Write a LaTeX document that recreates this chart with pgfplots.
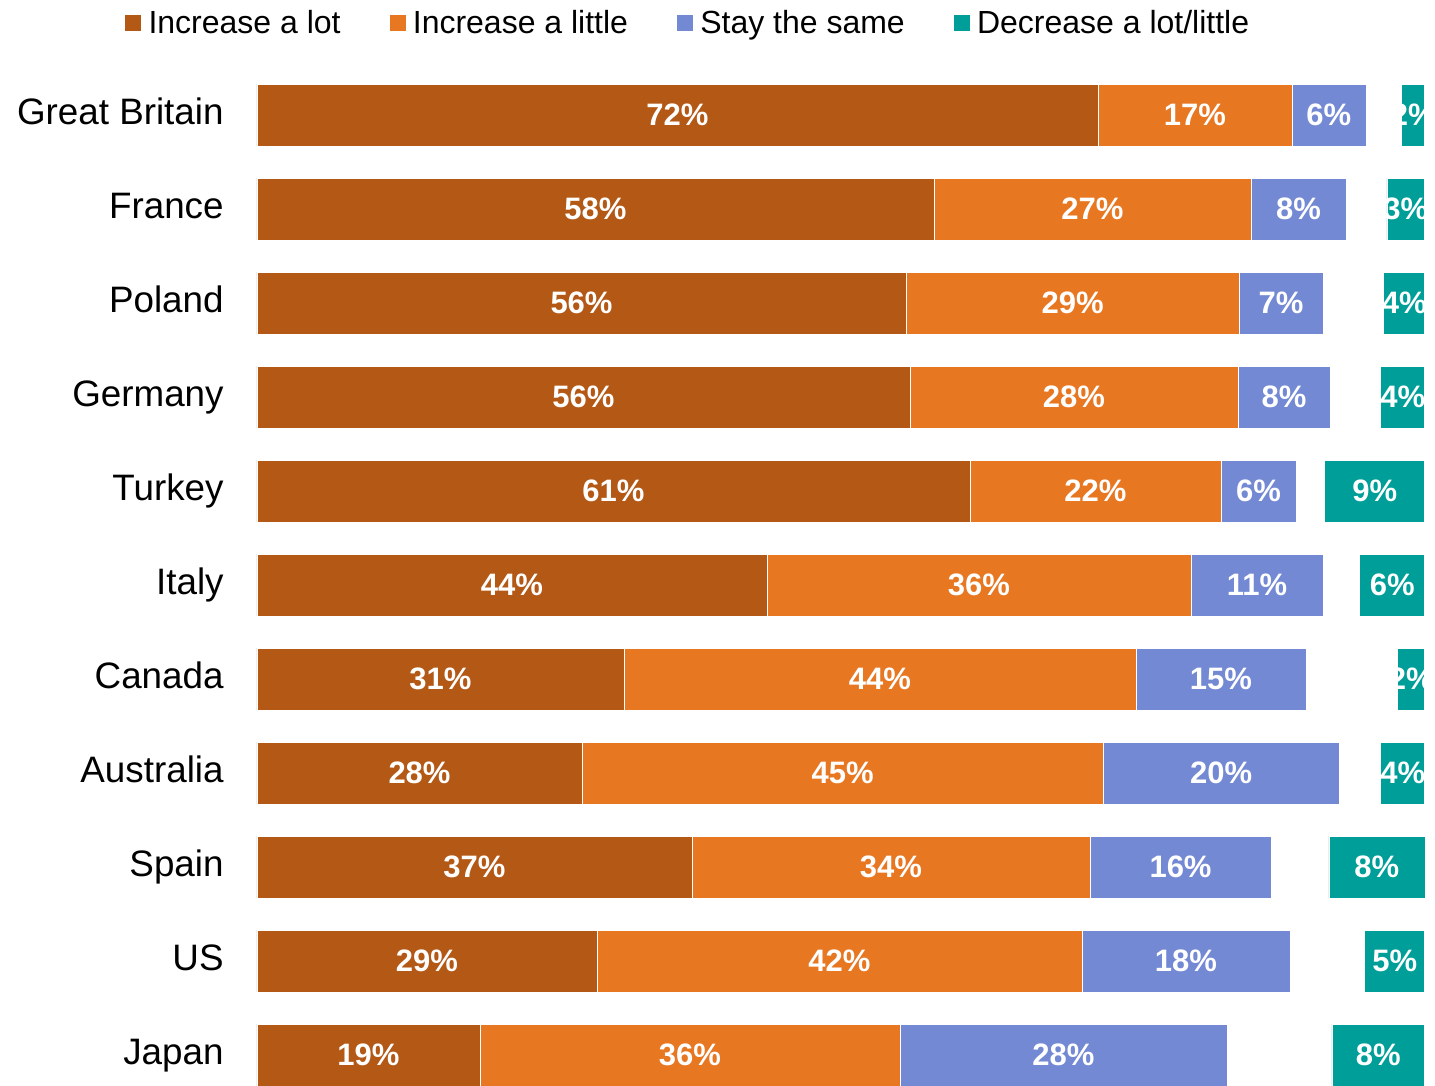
\documentclass[border=0pt]{standalone}
\usepackage{pgfplots}
\pgfplotsset{compat=1.18}
\usepackage{fontspec}
\setmainfont{Liberation Sans}
\definecolor{clot}{RGB}{180,88,22}
\definecolor{clittle}{RGB}{232,119,34}
\definecolor{csame}{RGB}{115,137,212}
\definecolor{cdec}{RGB}{0,158,153}
\begin{document}
\begin{tikzpicture}
\begin{axis}[
  xbar stacked,
  scale only axis,
  width=584pt, height=543pt,
  xmin=0, xmax=100,
  ymin=-1.2234, ymax=10.3298,
  y dir=reverse,
  bar width=31pt,
  axis line style={draw=none},
  major tick length=0pt,
  xtick=\empty,
  ytick={0,...,10},
  yticklabels={Great Britain,France,Poland,Germany,Turkey,Italy,Canada,Australia,Spain,US,Japan},
  yticklabel style={font=\fontsize{18.4}{20}\selectfont, anchor=base east, inner sep=0pt, xshift=-16.5pt, yshift=-4.65pt},
  point meta=explicit symbolic,
  nodes near coords={\pgfplotspointmeta\%},
  nodes near coords style={font=\fontsize{15.5}{17}\selectfont\bfseries, text=white, anchor=center},
  legend columns=4,
  legend style={draw=none, fill=none, inner sep=0pt,
    at={(axis description cs:-0.1139,0.9788)}, anchor=west,
    font=\fontsize{16}{18}\selectfont, nodes={inner sep=0pt},
    /tikz/every odd column/.append style={column sep=3.3pt},
    /tikz/every even column/.append style={column sep=24pt}},
  legend image code/.code={\fill[#1] (0pt,-4.25pt) rectangle (8.5pt,4.25pt);},
]
\addplot[fill=clot, draw=white, line width=0.3pt] coordinates {
 (72.0,0) [72] (57.96,1) [58] (55.57,2) [56] (55.91,3) [56] (61.04,4) [61] (43.66,5) [44]
 (31.42,6) [31] (27.83,7) [28] (37.24,8) [37] (29.11,9) [29] (19.09,10) [19]};
\addlegendentry{Increase a lot}
\addplot[fill=clittle, draw=white, line width=0.3pt] coordinates {
 (16.6,0) [17] (27.14,1) [27] (28.51,2) [29] (28.08,3) [28] (21.49,4) [22] (36.30,5) [36]
 (43.84,6) [44] (44.61,7) [45] (34.08,8) [34] (41.52,9) [42] (35.96,10) [36]};
\addlegendentry{Increase a little}
\addplot[fill=csame, draw=white, line width=0.3pt] coordinates {
 (6.34,0) [6] (8.13,1) [8] (7.19,2) [7] (7.88,3) [8] (6.42,4) [6] (11.30,5) [11]
 (14.55,6) [15] (20.21,7) [20] (15.50,8) [16] (17.81,9) [18] (28.0,10) [28]};
\addlegendentry{Stay the same}
\addplot[forget plot, draw=none, fill=none, nodes near coords={}] coordinates {
 (3.07,0) [] (3.50,1) [] (5.20,2) [] (4.34,3) [] (2.47,4) [] (3.15,5) []
 (7.86,6) [] (3.56,7) [] (4.95,8) [] (6.40,9) [] (8.97,10) []};
\addplot[fill=cdec, draw=white, line width=0.3pt] coordinates {
 (1.97,0) [2] (3.25,1) [3] (3.51,2) [4] (3.77,3) [4] (8.56,4) [9] (5.57,5) [6]
 (2.31,6) [2] (3.77,7) [4] (8.22,8) [8] (5.14,9) [5] (7.96,10) [8]};
\addlegendentry{Decrease a lot/little}
\end{axis}
\pgfresetboundingbox
\path[use as bounding box] ([xshift=-128.5pt]current axis.south west) rectangle ([xshift=5pt]current axis.north east);
\end{tikzpicture}
\end{document}
